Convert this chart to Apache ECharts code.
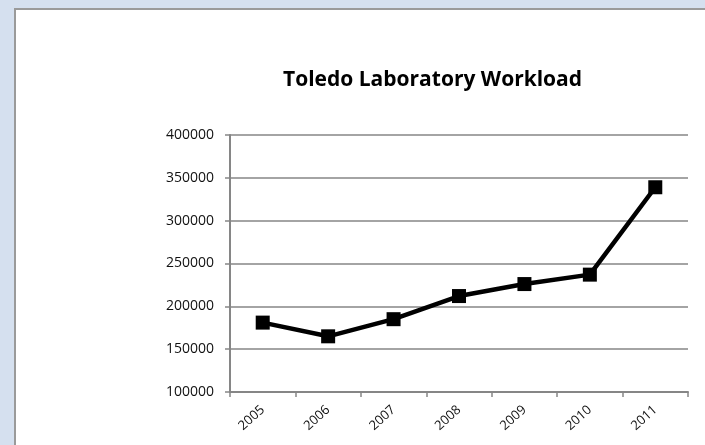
<!DOCTYPE html>
<html>
<head>
<meta charset="utf-8">
<script src="https://cdn.jsdelivr.net/npm/echarts@6/dist/echarts.min.js"></script>
<style>
  html, body { margin: 0; padding: 0; width: 705px; height: 445px; overflow: hidden; background: #d5e0ef; }
  #chart {
    position: absolute; left: 14px; top: 8px; width: 691px; height: 437px;
    border-left: 2px solid #9a9a9a; border-top: 2px solid #9a9a9a;
    background: #fff;
  }
</style>
</head>
<body>
<div id="chart"></div>
<script>
// 数据
var years = ["2005", "2006", "2007", "2008", "2009", "2010", "2011"];
var workload = [181000, 165000, 185000, 212000, 226000, 237000, 339000];
var yMin = 100000, yMax = 400000, yStep = 50000;

var chart = echarts.init(document.getElementById("chart"));
var option = {
  backgroundColor: "#fff",
  animation: false,
  title: {
    text: "Toledo Laboratory Workload",
    left: 262,
    top: 55,
    textStyle: { fontFamily: "Open Sans", fontWeight: "bold", fontSize: 21, color: "#000", letterSpacing: -0.5 }
  },
  grid: { left: 214, right: 19, top: 125, bottom: 55 },
  xAxis: {
    type: "category",
    data: years,
    boundaryGap: true,
    axisLine: { lineStyle: { color: "#868686", width: 2 } },
    axisTick: { show: true, length: 5, alignWithLabel: false, lineStyle: { color: "#868686", width: 1.5 } },
    axisLabel: { rotate: 42, fontFamily: "Open Sans", fontSize: 13, color: "#111", margin: 16 }
  },
  yAxis: {
    type: "value",
    min: yMin,
    max: yMax,
    interval: yStep,
    axisLine: { show: true, lineStyle: { color: "#868686", width: 2 } },
    axisTick: { show: true, length: 5, lineStyle: { color: "#868686", width: 1.5 } },
    axisLabel: { fontFamily: "Open Sans", fontSize: 14, color: "#111", margin: 16, formatter: function (v) { return String(v); } },
    splitLine: { lineStyle: { color: "#868686", width: 1.5 } }
  },
  series: [
    {
      type: "line",
      data: workload,
      symbol: "rect",
      symbolSize: 14,
      lineStyle: { color: "#000", width: 4.5 },
      itemStyle: { color: "#000" }
    }
  ]
};
chart.setOption(option);
</script>
</body>
</html>
